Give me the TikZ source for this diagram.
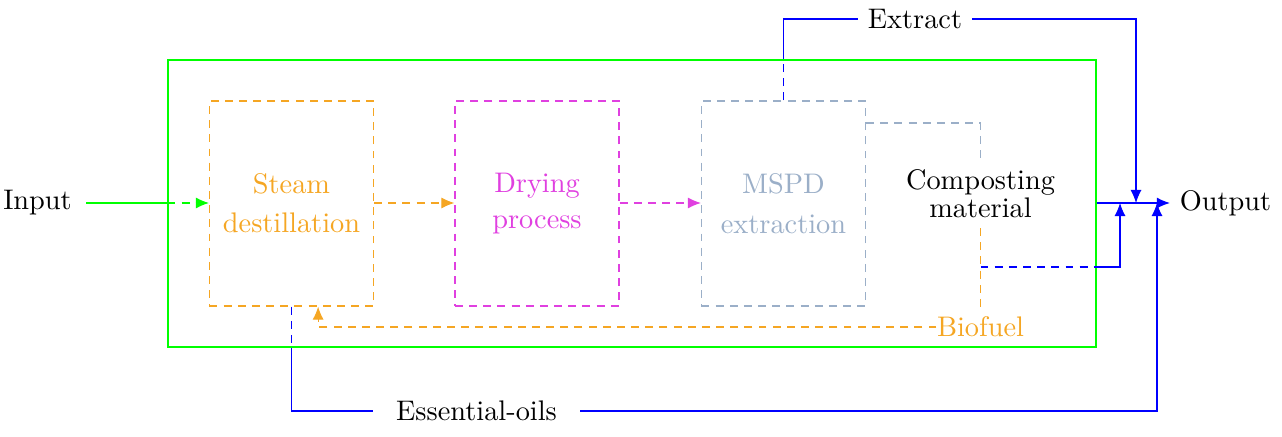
\documentclass[tikz,border=0pt]{standalone}
\usetikzlibrary{arrows.meta}
\definecolor{orangeC}{RGB}{245,166,35}
\definecolor{magentaC}{RGB}{224,64,224}
\definecolor{steelC}{RGB}{155,175,200}
\definecolor{greenC}{RGB}{0,255,0}
\definecolor{blueC}{RGB}{0,0,255}
\begin{document}
\begin{tikzpicture}[x=0.353pt,y=-0.353pt,
  arr/.style={-{Latex[length=4.6pt,width=3.9pt]}},
  dsh/.style={dash pattern=on 2.8pt off 2.2pt},
  procbox/.style={draw,dsh,minimum width=57.9pt,minimum height=72.4pt,align=center,inner sep=0pt},
  line width=0.4pt]
\useasboundingbox (0,0) rectangle (1282,437);
% frame
\node[draw=greenC,minimum width=327.6pt,minimum height=101.3pt,inner sep=0pt] (frame) at (632,203.5) {};
% process boxes
\node[procbox,draw=orangeC,text=orangeC] (steam) at (291.5,203.5) {Steam\\[1.8pt]destillation};
\node[procbox,draw=magentaC,text=magentaC] (dry) at (537,203.5) {Drying\\[0.7pt]process};
\node[procbox,draw=steelC,text=steelC] (mspd) at (783.5,203.5) {MSPD\\[2.1pt]extraction};
\node[align=center] (comp) at (980.5,194) {Composting\\[-2.1pt]material};
\node[text=orangeC,inner xsep=0pt] (bio) at (980.5,327) {Biofuel};
% outside labels
\node[inner xsep=5pt] (in) at (37.5,203) {Input};
\node (out) at (1225.5,203) {Output};
\node (ext) at (915,19) {Extract};
\node[inner xsep=8pt] (oil) at (476.5,411) {Essential-oils};
% junctions on output line
\coordinate (j1) at (1120,203);
\coordinate (j2) at (1136,203);
\coordinate (j3) at (1157,203);
% input
\draw[greenC] (in.east) -- (in.east -| frame.west);
\draw[greenC,dsh,arr] (in.east -| frame.west) -- (in.east -| steam.west);
% process chain
\draw[orangeC,dsh,arr] (steam.east |- in.east) -- (dry.west |- in.east);
\draw[magentaC,dsh,arr] (dry.east |- in.east) -- (mspd.west |- in.east);
% mspd to composting
\draw[steelC,dsh] (mspd.east |- 0,123) -- (comp.north |- 0,123) -- (comp.north);
% composting to biofuel
\draw[orangeC,dsh] (comp.south) -- (bio.north);
\draw[orangeC,dsh,arr] (bio.west) -| ([xshift=9.4pt]steam.south);
% composting to output
\coordinate (split) at (comp.south |- 0,267);
\draw[blueC,dsh] (split) -- (split -| frame.east);
\draw[blueC,arr] (split -| frame.east) -| (j1);
% extract
\draw[blueC,dsh] (mspd.north) -- (mspd.north |- frame.north);
\draw[blueC] (mspd.north |- frame.north) |- (ext.west);
\draw[blueC,arr] (ext.east) -| (j2);
% essential oils
\draw[blueC,dsh] (steam.south) -- (steam.south |- frame.south);
\draw[blueC] (steam.south |- frame.south) |- (oil.west);
\draw[blueC,arr] (oil.east) -| (j3);
% output
\draw[blueC,arr] (frame.east |- out.west) -- (out.west);
\end{tikzpicture}
\end{document}
